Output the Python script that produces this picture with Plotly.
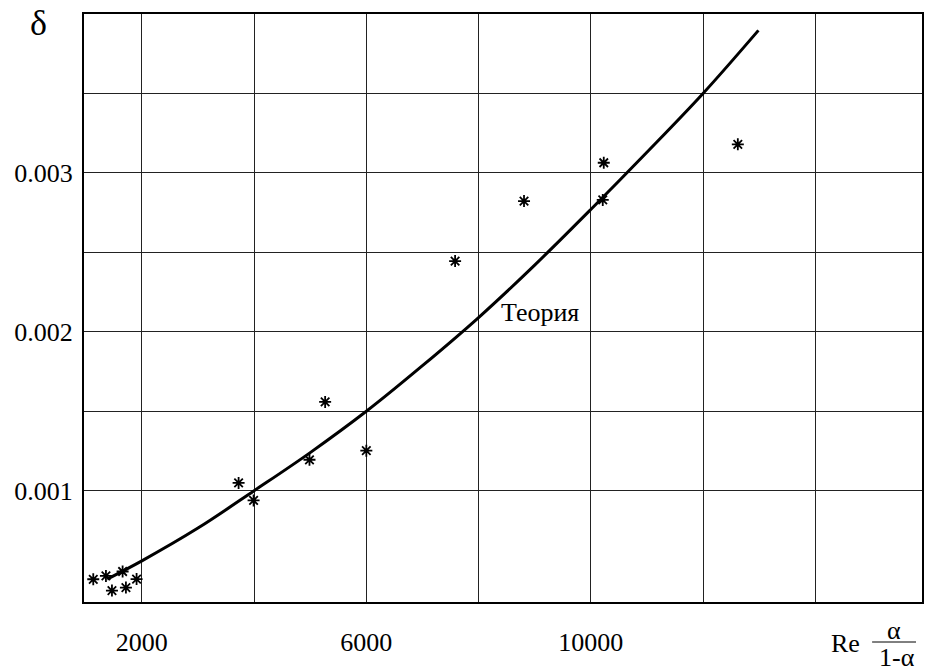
import plotly.graph_objects as go

# Experimental points (Re*alpha/(1-alpha), delta)
exp_x = [1134, 1360, 1467, 1657, 1716, 1906, 3724, 3991, 4987, 5266, 6000, 7582, 8810, 10213, 10231, 12620]
exp_y = [0.000443, 0.000464, 0.000372, 0.000492, 0.000391, 0.000444, 0.001049, 0.000939, 0.001195,
         0.001559, 0.001252, 0.002445, 0.002823, 0.002830, 0.003064, 0.003180]

# Theory curve
theory_x = [1383, 2000, 3000, 4000, 5000, 6000, 7000, 8000, 9000, 10000, 11000, 12000, 12987]
theory_y = [0.000444, 0.000559, 0.000765, 0.001, 0.00124, 0.0015, 0.001787, 0.00209, 0.00242,
            0.00277, 0.00313, 0.0035, 0.003897]

x_ticks = [2000, 4000, 6000, 8000, 10000, 12000, 14000]
x_ticktext = ["2000", "", "6000", "", "10000", "", ""]
y_ticks = [0.001, 0.0015, 0.002, 0.0025, 0.003, 0.0035]
y_ticktext = ["0.001", "", "0.002", "", "0.003", ""]

FONT = "Liberation Serif"

fig = go.Figure()
fig.add_trace(go.Scatter(x=theory_x, y=theory_y, mode="lines",
                         line=dict(color="black", width=3, shape="spline", smoothing=1.0),
                         showlegend=False, hoverinfo="skip"))
fig.add_trace(go.Scatter(x=exp_x, y=exp_y, mode="markers",
                         marker=dict(symbol="asterisk-open", size=10, color="black",
                                     line=dict(color="black", width=1.8)),
                         showlegend=False))

fig.add_annotation(x=9088, y=0.002119, xref="x", yref="y", text="Теория", showarrow=False,
                   font=dict(family=FONT, size=26, color="black"), xanchor="center", yanchor="middle")

L, R, T, B = 84, 924, 14, 602


def px(xp, yp):
    return (xp - L) / (R - L), (B - yp) / (B - T)


def label(xp, yp, text, size=26):
    x, y = px(xp, yp)
    fig.add_annotation(x=x, y=y, xref="paper", yref="paper", text=text, showarrow=False,
                       font=dict(family=FONT, size=size, color="black"),
                       xanchor="center", yanchor="middle")


label(38, 23, "δ", 36)
label(847, 643, "Re", 26)
label(896, 630, "α", 26)
label(899, 657, "1-α", 26)

x0, y0 = px(874, 642)
x1, _ = px(918, 642)
fig.add_shape(type="line", xref="paper", yref="paper", x0=x0, x1=x1, y0=y0, y1=y0,
              line=dict(color="black", width=1))

axis_common = dict(showline=True, mirror=True, linecolor="black", linewidth=2,
                   showgrid=True, gridcolor="#222", gridwidth=1, zeroline=False,
                   ticks="", tickfont=dict(family=FONT, size=26, color="black"))

fig.update_xaxes(range=[969, 15902], tickmode="array", tickvals=x_ticks, ticktext=x_ticktext,
                 ticklabelstandoff=16, **axis_common)
fig.update_yaxes(range=[0.0003, 0.004], tickmode="array", tickvals=y_ticks, ticktext=y_ticktext,
                 ticklabelstandoff=4, **axis_common)

fig.update_layout(width=925, height=672, margin=dict(l=L, r=925 - R, t=T, b=672 - B, pad=0),
                  paper_bgcolor="white", plot_bgcolor="white", showlegend=False)

fig.write_html("out.html", config={"displayModeBar": False},
               post_script="document.body.style.margin='0px';document.body.style.overflow='hidden';")
